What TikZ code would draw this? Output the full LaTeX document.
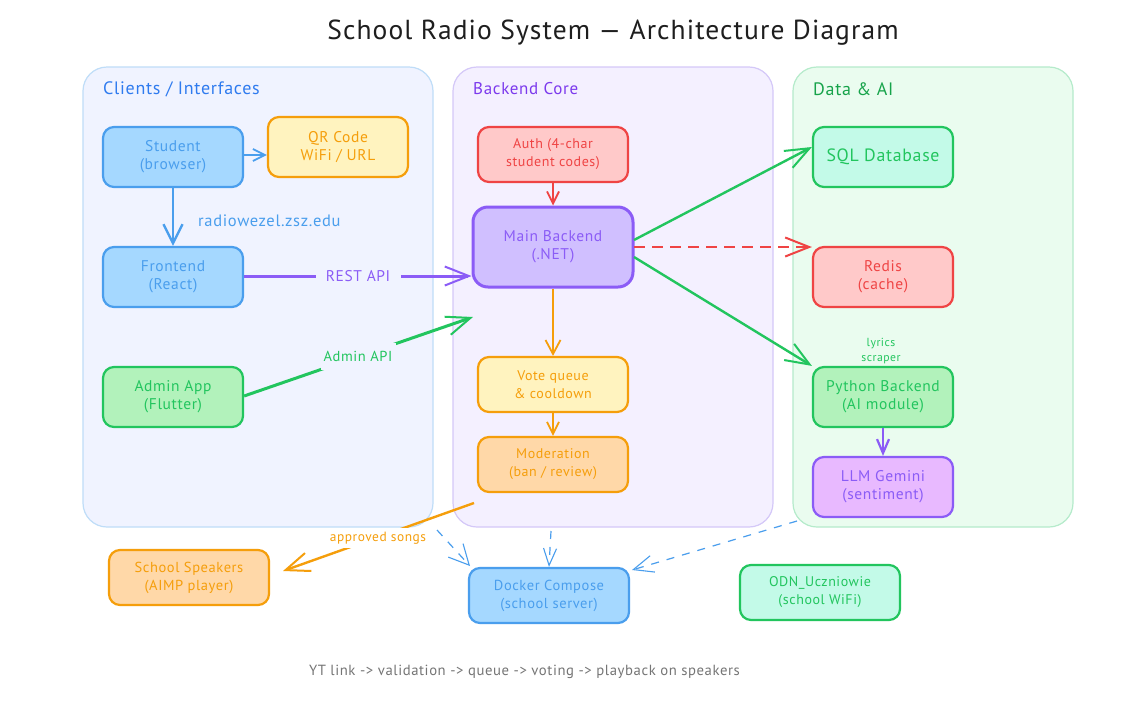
\documentclass[tikz,border=0pt]{standalone}
\usepackage{fontspec}
\setmainfont[LetterSpace=4]{PT Sans}
\usetikzlibrary{arrows.meta}
\definecolor{cblue}{HTML}{4A9EED}
\definecolor{fblue}{HTML}{A5D8FF}
\definecolor{cora}{HTML}{F59E0B}
\definecolor{fyel}{HTML}{FFF3BF}
\definecolor{fora}{HTML}{FFD8A8}
\definecolor{cgre}{HTML}{22C55E}
\definecolor{fgre}{HTML}{B2F2BB}
\definecolor{fmint}{HTML}{C3FAE8}
\definecolor{cred}{HTML}{EF4444}
\definecolor{fred}{HTML}{FFC9C9}
\definecolor{cvio}{HTML}{8B5CF6}
\definecolor{fvio}{HTML}{D0BFFF}
\definecolor{fpur}{HTML}{E8B9FF}
\definecolor{zblue}{HTML}{F0F3FF}
\definecolor{zvio}{HTML}{F4F0FF}
\definecolor{zgre}{HTML}{EAFCEF}
\definecolor{lblue}{HTML}{BFDDF8}
\definecolor{lvio}{HTML}{D4C8F8}
\definecolor{lgre}{HTML}{B5EBCB}
\definecolor{cink}{HTML}{1E1E1E}
\definecolor{cgray}{HTML}{757575}
\definecolor{tblue}{HTML}{2F7BEF}
\definecolor{tvio}{HTML}{7C3AED}
\definecolor{tgre}{HTML}{16A34A}
\tikzset{
 x=1pt,y=-1pt,
 zone/.style={draw=#1,line width=1.2pt,rounded corners=24pt},
 boxs/.style n args={4}{draw=#1,fill=#2,text=#1,line width=2.2pt,rounded corners=11pt,minimum width=#3,minimum height=#4,align=center,font=\fontsize{15.5}{18}\selectfont,inner sep=0pt},
 smallt/.style={font=\fontsize{14}{18}\selectfont},
 zt/.style={anchor=west,inner sep=0pt,font=\fontsize{18}{20}\selectfont},
 lab/.style={align=center,font=\fontsize{14.5}{16}\selectfont,inner sep=0pt},
 big/.style={line width=2.4pt,-{Straight Barb[length=24pt,width=19pt,line width=2pt]}},
 mid/.style={line width=2.8pt,-{Straight Barb[length=19pt,width=19pt,line width=2.4pt]}},
 tiny/.style={line width=2.2pt,-{Straight Barb[length=12pt,width=12pt,line width=1.8pt]}},
 dsh/.style={line width=1.2pt,dash pattern=on 8pt off 8pt}
}
\begin{document}
\begin{tikzpicture}
\useasboundingbox (0,0) rectangle (1144,716);
\fill[white] (0,0) rectangle (1144,716);
\node[font=\fontsize{27.5}{30}\selectfont,text=cink] (title) at (613,33) {School Radio System — Architecture Diagram};
% zones
\draw[zone=lblue,fill=zblue] (83,67) rectangle (433,527);
\draw[zone=lvio,fill=zvio] (453,67) rectangle (773,527);
\draw[zone=lgre,fill=zgre] (793,67) rectangle (1073,527);
\node[zt,text=tblue] (zc) at (103,89) {Clients / Interfaces};
\node[zt,text=tvio,font=\fontsize{17}{20}\selectfont] (zb) at (473,89) {Backend Core};
\node[zt,text=tgre] (zd) at (813,89) {Data \& AI};
% nodes
\node[boxs={cblue}{fblue}{140pt}{60pt}] (student) at (173,157) {Student\\(browser)};
\node[boxs={cora}{fyel}{140pt}{60pt}] (qr) at (338,147) {QR Code\\WiFi / URL};
\node[boxs={cblue}{fblue}{140pt}{60pt}] (front) at (173,277) {Frontend\\(React)};
\node[boxs={cgre}{fgre}{140pt}{60pt}] (admin) at (173,397) {Admin App\\(Flutter)};
\node[boxs={cred}{fred}{150pt}{55pt},smallt] (auth) at (553,154.5) {Auth (4-char\\student codes)};
\node[boxs={cvio}{fvio}{160pt}{80pt},line width=3pt,rounded corners=15pt] (main) at (553,247) {Main Backend\\(.NET)};
\node[boxs={cora}{fyel}{150pt}{55pt},smallt] (vote) at (553,384.5) {Vote queue\\\& cooldown};
\node[boxs={cora}{fora}{150pt}{55pt},smallt] (mod) at (553,464.5) {Moderation\\(ban / review)};
\node[boxs={cgre}{fmint}{140pt}{60pt},font=\fontsize{17.8}{20}\selectfont] (sql) at (883,157) {SQL Database};
\node[boxs={cred}{fred}{140pt}{60pt}] (redis) at (883,277) {Redis\\(cache)};
\node[boxs={cgre}{fgre}{140pt}{60pt}] (py) at (883,397) {Python Backend\\(AI module)};
\node[boxs={cvio}{fpur}{140pt}{60pt}] (llm) at (883,487) {LLM Gemini\\(sentiment)};
\node[boxs={cora}{fora}{160pt}{55pt},font=\fontsize{14.5}{18}\selectfont] (spk) at (189,577.5) {School Speakers\\(AIMP player)};
\node[boxs={cblue}{fblue}{160pt}{55pt},font=\fontsize{14.5}{18}\selectfont] (docker) at (549,595.5) {Docker Compose\\(school server)};
\node[boxs={cgre}{fmint}{160pt}{55pt},smallt] (odn) at (820,592.5) {ODN\_Uczniowie\\(school WiFi)};
% free ends
\coordinate (admend) at (473,317);
\coordinate (modstart) at (474,503);
\coordinate (d1) at (437,530);
\coordinate (d2) at (551,531);
\coordinate (d3) at (797,521);
\coordinate (spkend) at (283,571);
% connectors
\draw[tiny,draw=cblue] (student.east|-0,155) -- (qr.west|-0,155);
\draw[mid,draw=cblue] (student.south) -- (front.north);
\node[lab,text=cblue,anchor=west,font=\fontsize{16.5}{18}\selectfont] (url) at (198,221) {radiowezel.zsz.edu};
\draw[big,line width=3pt,draw=cvio] (front.east|-0,276) -- (main.west|-0,276);
\node[lab,text=cvio,fill=zblue,minimum width=85pt,minimum height=20pt,font=\fontsize{15.5}{18}\selectfont] (rest) at (358,276) {REST API};
\draw[big,line width=3pt,draw=cgre] (admin.east|-0,396) -- (admend);
\node[lab,text=cgre,fill=zblue,minimum width=75pt,minimum height=27pt] (adm) at (358,356) {Admin API};
\draw[tiny,draw=cred] (auth.south) -- (main.north);
\draw[big,draw=cgre] (634,240) -- (sql.west|-0,147);
\draw[big,line width=2.6pt,draw=cred,dash pattern=on 11pt off 7pt] (634,247) -- (redis.west|-0,247);
\draw[big,draw=cgre] (634,257) -- (py.north west);
\draw[tiny,draw=cora,-{Straight Barb[length=14pt,width=15pt,line width=1.8pt]}] (main.south) -- (vote.north);
\draw[tiny,draw=cora] (vote.south) -- (mod.north);
\draw[tiny,line width=2.8pt,draw=cvio,-{Straight Barb[length=14pt,width=12pt,line width=2.2pt]}] (py.south) -- (llm.north);
\node[lab,text=cgre,font=\fontsize{11.7}{15}\selectfont] (lyr) at (881,351) {lyrics\\scraper};
\draw[big,draw=cora] (modstart) -- (spkend);
\node[lab,text=cora,font=\fontsize{13.4}{15}\selectfont,fill=white,minimum width=100pt,minimum height=20pt] (appr) at (378,538) {approved songs};
\draw[dsh,draw=cblue,-{Straight Barb[length=20pt,width=20pt,line width=1.1pt]}] (d1) -- (470,566);
\draw[dsh,draw=cblue,-{Straight Barb[length=17pt,width=13pt,line width=1.1pt]}] (d2) -- (docker.north);
\draw[dsh,draw=cblue,-{Straight Barb[length=20pt,width=17pt,line width=1.1pt]}] (d3) -- (632,570);
\node[lab,text=cgray,font=\fontsize{14.7}{16}\selectfont] (foot) at (524.5,672) {YT link -> validation -> queue -> voting -> playback on speakers};
\end{tikzpicture}
\end{document}
